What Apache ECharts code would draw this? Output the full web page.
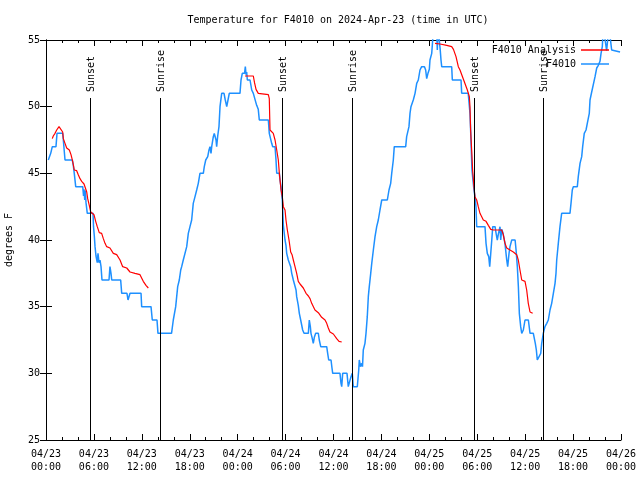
<!DOCTYPE html>
<html><head><meta charset="utf-8">
<script src="https://cdn.jsdelivr.net/npm/echarts@6/dist/echarts.min.js"></script>
<style>html,body{margin:0;padding:0;background:#fff}#c{width:640px;height:480px}</style>
</head><body><div id="c"></div>
<script>
// hours since 2024-04-23 00:00 UTC, temperature in degrees F
const obsF4010 = [
[0.29,46],[0.59,46.5],[0.79,47],[1.25,47],[1.38,48],[2.09,48],[2.17,47.5],[2.38,46],[3.29,46],[3.42,45.6],[3.54,45],[3.72,44],[4.60,44],
[4.70,43.3],[4.76,43.8],[4.85,43],[4.92,43.7],[5.01,42.8],[5.17,42],[5.89,42],[5.95,41],[6.05,40.3],[6.14,39.5],[6.26,38.8],[6.42,38.3],
[6.51,39],[6.64,38.3],[6.76,38.5],[6.89,38],[7.01,37],[7.89,37],[8.01,38],[8.14,37.5],[8.23,37],[9.35,37],[9.48,36],[10.14,36],[10.27,35.5],
[10.52,36],[11.90,36],[11.98,35],[13.15,35],[13.31,34],[13.90,34],[14.02,33],[15.72,33],[15.94,34],[16.24,35],[16.49,36.5],[16.69,37],
[16.87,37.75],[16.99,38],[17.19,38.5],[17.62,39.5],[17.82,40.5],[18.03,41],[18.24,41.5],[18.44,42.75],[18.66,43.25],[18.87,43.75],
[19.07,44.25],[19.28,45],[19.70,45],[19.82,45.5],[20.00,46],[20.25,46.25],[20.41,46.75],[20.54,47],[20.66,46.5],[20.75,47],[20.95,47.75],
[21.07,48],[21.29,47.5],[21.37,47],[21.50,47.8],[21.66,48.5],[21.79,50],[22.00,51],[22.29,51],[22.45,50.5],[22.63,50],[22.79,50.5],
[22.95,51],[24.29,51],[24.42,52],[24.58,52.5],[24.86,52.5],[24.96,53],[25.05,52.4],[25.13,52.6],[25.21,52],[25.55,52],[25.76,51.25],
[25.96,51],[26.38,50.1],[26.58,49.8],[26.71,49],[27.84,49],[27.96,48],[28.05,48],[28.26,47.25],[28.39,47],[28.68,47],[28.80,46],
[28.89,45],[29.22,45],[29.30,44.5],[29.43,44],[29.51,43.4],[29.59,43],[29.64,42.25],[29.72,41.1],[29.80,41],[29.93,40],[30.05,39.6],
[30.14,39],[30.34,38.5],[30.64,38],[30.77,37.5],[30.97,37],[31.18,37],[31.31,36.25],[31.39,35.75],[31.59,35.1],[31.72,34.5],[31.89,34],
[32.14,33.25],[32.31,33],[32.85,33],[32.97,34],[33.10,33.5],[33.18,33],[33.31,32.7],[33.47,32.25],[33.60,32.7],[33.77,33],[34.10,33],
[34.22,32.5],[34.40,32],[35.15,32],[35.27,31.5],[35.40,31],[35.69,31],[35.81,30.4],[35.90,30],[36.81,30],[36.94,29.25],[37.03,29],
[37.15,30],[37.69,30],[37.85,29],[38.06,29],[38.19,29.75],[38.35,30],[38.48,29],[38.98,29],[39.16,30.25],[39.23,31],[39.38,30.5],
[39.53,30.75],[39.63,30.5],[39.73,31.75],[39.94,32.25],[40.07,33],[40.23,34.25],[40.36,35.75],[40.48,36.5],[40.66,37.5],[40.79,38.25],
[40.99,39.25],[41.20,40.25],[41.41,41],[41.61,41.5],[41.82,42.25],[42.04,43],[42.74,43],[42.95,43.75],[43.16,44.25],[43.29,45],
[43.49,46],[43.61,47],[45.04,47],[45.16,47.75],[45.45,48.5],[45.58,49.5],[45.70,50],[45.99,50.5],[46.21,51],[46.42,51.75],[46.62,52],
[46.83,52.75],[47.04,53],[47.24,53.05],[47.39,53],[47.54,52.75],[47.67,52.1],[47.83,52.5],[48.00,52.8],[48.08,53.5],[48.30,54],
[48.42,55],[48.50,56],[48.71,56],[48.90,56],[49.00,54.25],[49.09,56],[49.28,56],[49.37,54.2],[49.46,53.5],[49.55,53],[50.80,53],
[50.88,52],[51.97,52],[52.05,51],[52.87,51],[53.09,49.5],[53.17,48.25],[53.34,45.25],[53.42,44.75],[53.59,43.75],[53.71,43.25],
[53.84,42.5],[53.93,41],[54.97,41],[55.10,39.75],[55.26,39],[55.44,38.75],[55.56,38],[55.69,39],[55.82,40],[55.94,41],[56.23,41],
[56.36,40.5],[56.51,40],[56.66,40.5],[56.85,41],[56.94,40],[57.06,40.8],[57.23,40.5],[57.47,39.75],[57.69,38.5],[57.81,38],[57.98,39],
[58.10,39.5],[58.32,40],[58.74,40],[58.86,39.25],[59.02,38],[59.15,36.5],[59.27,34.5],[59.44,33.5],[59.57,33],[59.77,33.25],[59.98,34],
[60.40,34],[60.61,33],[61.02,33],[61.27,32.25],[61.40,31.75],[61.52,31],[61.77,31],[61.95,31.5],[62.07,32.25],[62.27,33],[62.42,33],
[62.48,33.5],[62.70,33.75],[62.90,34],[63.11,34.75],[63.32,35.25],[63.53,36],[63.74,36.75],[63.86,37.5],[63.95,38.5],[64.15,39.75],
[64.36,41],[64.57,42],[65.61,42],[65.74,42.75],[65.90,43.75],[66.03,44],[66.53,44],[66.65,44.75],[66.87,45.75],[67.08,46.25],[67.20,47],
[67.40,48],[67.62,48.25],[67.78,48.75],[68.03,49.5],[68.12,50.5],[68.33,51.1],[68.54,51.25],[68.75,52.25],[68.96,52.9],[69.16,53.1],
[69.37,53.4],[69.50,54],[69.66,54.5],[69.78,56],[69.99,56],[70.20,54.2],[70.37,54.2],[70.49,56],[70.68,56],[70.83,54.25],[70.95,54.1],
[71.88,54.1]
];
const analysisDay1 = [
[0.79,47.6],[0.91,47.8],[1.13,48],[1.34,48.25],[1.63,48.5],[1.84,48.55],[2.09,48.1],[2.17,47.6],[2.38,47.25],[2.59,46.9],[2.92,46.75],
[3.13,46.4],[3.34,45.9],[3.54,45.25],[3.84,45.2],[4.04,44.9],[4.26,44.6],[4.47,44.4],[4.76,44.2],[4.97,44.1],[5.10,43.6],[5.22,43.1],
[5.42,42.6],[5.60,42.1],[5.85,42],[6.01,41.9],[6.22,41.4],[6.42,41],[6.67,40.55],[6.97,40.5],[7.18,40.1],[7.39,39.75],[7.60,39.5],
[8.01,39.4],[8.43,39],[8.85,38.9],[9.27,38.5],[9.60,38],[10.11,37.9],[10.52,37.6],[11.14,37.5],[11.77,37.4],[11.98,37.25],[12.18,36.9],
[12.52,36.6],[12.81,36.4]
];
const analysisDay2 = [
[24.92,52.3],[25.96,52.3],[26.11,51.8],[26.30,51.3],[26.58,51],[27.84,50.9],[27.96,50.6],[28.05,48.25],[28.46,48],[28.68,47.5],
[28.89,46.75],[29.09,46],[29.22,45],[29.43,43.75],[29.59,43.25],[29.72,42.5],[29.93,42.25],[30.05,41.5],[30.22,40.75],[30.43,40],
[30.64,39.1],[30.81,38.9],[30.97,38.5],[31.18,38],[31.39,37.5],[31.59,36.9],[31.81,36.7],[32.22,36.4],[32.56,36],[32.85,35.8],
[33.06,35.6],[33.27,35.25],[33.68,34.75],[34.10,34.55],[34.52,34.2],[34.94,34],[35.15,33.75],[35.35,33.4],[35.56,33.1],[35.98,32.95],
[36.40,32.6],[36.69,32.4],[37.03,32.35]
];
const analysisDay3 = [
[48.71,54.75],[49.34,54.7],[50.18,54.6],[50.80,54.5],[51.02,54.3],[51.34,53.75],[51.63,53],[51.84,52.75],[51.97,52.6],[52.76,51.25],
[53.01,50.75],[53.09,50],[53.17,48.25],[53.30,46.75],[53.42,45.25],[53.59,44],[53.71,43.25],[53.93,43],[54.13,42.5],[54.34,42],
[54.56,41.75],[54.76,41.5],[55.10,41.4],[55.39,41.1],[55.69,40.8],[56.02,40.75],[57.06,40.75],[57.26,40.4],[57.48,39.75],[57.69,39.4],
[58.10,39.25],[58.52,39.1],[58.94,38.9],[59.14,38.5],[59.35,37.75],[59.57,37],[59.98,36.9],[60.19,36.25],[60.39,35.25],[60.61,34.6],
[60.94,34.5]
];
const sunTimes = [5.55, 14.31, 29.58, 38.34, 53.62, 62.27];
const sunLabels = ['Sunset', 'Sunrise', 'Sunset', 'Sunrise', 'Sunset', 'Sunrise'];
const sunLineTop = 50.65;
const seriesNames = ['F4010 Analysis', 'F4010'];
const titleText = 'Temperature for F4010 on 2024-Apr-23 (time in UTC)';
const yTitle = 'degrees F';

const FONT = 'DejaVu Sans Mono';
const analysisData = analysisDay1.concat([null], analysisDay2, [null], analysisDay3);

function fmtX(v) {
  const day = 23 + Math.floor(v / 24);
  const hr = Math.round(v % 24);
  return '04/' + day + '\n' + (hr < 10 ? '0' : '') + hr + ':00';
}
const xCommon = {
  type: 'value', min: 0, max: 72, interval: 6,
  splitLine: { show: false },
  axisLine: { show: true, lineStyle: { color: '#000', width: 1 } },
  axisTick: { show: true, inside: true, length: 6, lineStyle: { color: '#000', width: 1 } },
  minorTick: { show: true, splitNumber: 3, length: 3, lineStyle: { color: '#000', width: 1 } },
  minorSplitLine: { show: false }
};
const yCommon = {
  type: 'value', min: 25, max: 55, interval: 5,
  splitLine: { show: false },
  axisLine: { show: true, lineStyle: { color: '#000', width: 1 } },
  axisTick: { show: true, inside: true, length: 6, lineStyle: { color: '#000', width: 1 } }
};
const chart = echarts.init(document.getElementById('c'), null, { renderer: 'canvas' });
chart.setOption({
  animation: false,
  backgroundColor: '#fff',
  title: {
    text: titleText, left: 333, top: 10, textAlign: 'center',
    textStyle: { fontFamily: FONT, fontSize: 10, fontWeight: 'normal', color: '#000' }
  },
  grid: { left: 46, right: 19, top: 40, bottom: 40, containLabel: false, outerBoundsMode: 'none' },
  legend: {
    data: seriesNames, orient: 'vertical', align: 'right', right: 31, top: 44, padding: 0,
    icon: 'rect', itemWidth: 28, itemHeight: 1.5, itemGap: 2,
    textStyle: { fontFamily: FONT, fontSize: 10, color: '#000', lineHeight: 12 }
  },
  xAxis: [
    Object.assign({}, xCommon, { position: 'bottom',
      axisLabel: { formatter: fmtX, fontFamily: FONT, fontSize: 10, color: '#000', lineHeight: 13, margin: 8 } }),
    Object.assign({}, xCommon, { position: 'top', axisLabel: { show: false } })
  ],
  yAxis: [
    Object.assign({}, yCommon, { position: 'left', name: yTitle, nameLocation: 'middle', nameGap: 32,
      nameTextStyle: { fontFamily: FONT, fontSize: 10, color: '#000' },
      axisLabel: { fontFamily: FONT, fontSize: 10, color: '#000', margin: 6 } }),
    Object.assign({}, yCommon, { position: 'right', axisLabel: { show: false } })
  ],
  series: [
    {
      name: seriesNames[0], type: 'line', data: analysisData, showSymbol: false, symbol: 'none',
      connectNulls: false, lineStyle: { color: '#ff0000', width: 1.2 }, itemStyle: { color: '#ff0000' }, z: 3
    },
    {
      name: seriesNames[1], type: 'line', data: obsF4010, showSymbol: false, symbol: 'none',
      lineStyle: { color: '#1e90ff', width: 1.5 }, itemStyle: { color: '#1e90ff' }, z: 2
    },
    {
      name: 'sun', type: 'custom', data: sunTimes.map(t => [t, 25]), z: 4, silent: true,
      renderItem: function (params, api) {
        const t = api.value(0);
        const p0 = api.coord([t, 25]);
        const p1 = api.coord([t, sunLineTop]);
        return {
          type: 'group', children: [
            { type: 'line', shape: { x1: Math.round(p0[0]) + 0.5, y1: p0[1], x2: Math.round(p0[0]) + 0.5, y2: p1[1] },
              style: { stroke: '#000', lineWidth: 1 } },
            { type: 'text', x: p1[0] + 1, y: p1[1] - 6, rotation: Math.PI / 2,
              style: { text: sunLabels[params.dataIndex], align: 'left', verticalAlign: 'middle',
                font: '10px "' + FONT + '"', fill: '#000' } }
          ]
        };
      }
    }
  ]
});
</script></body></html>
